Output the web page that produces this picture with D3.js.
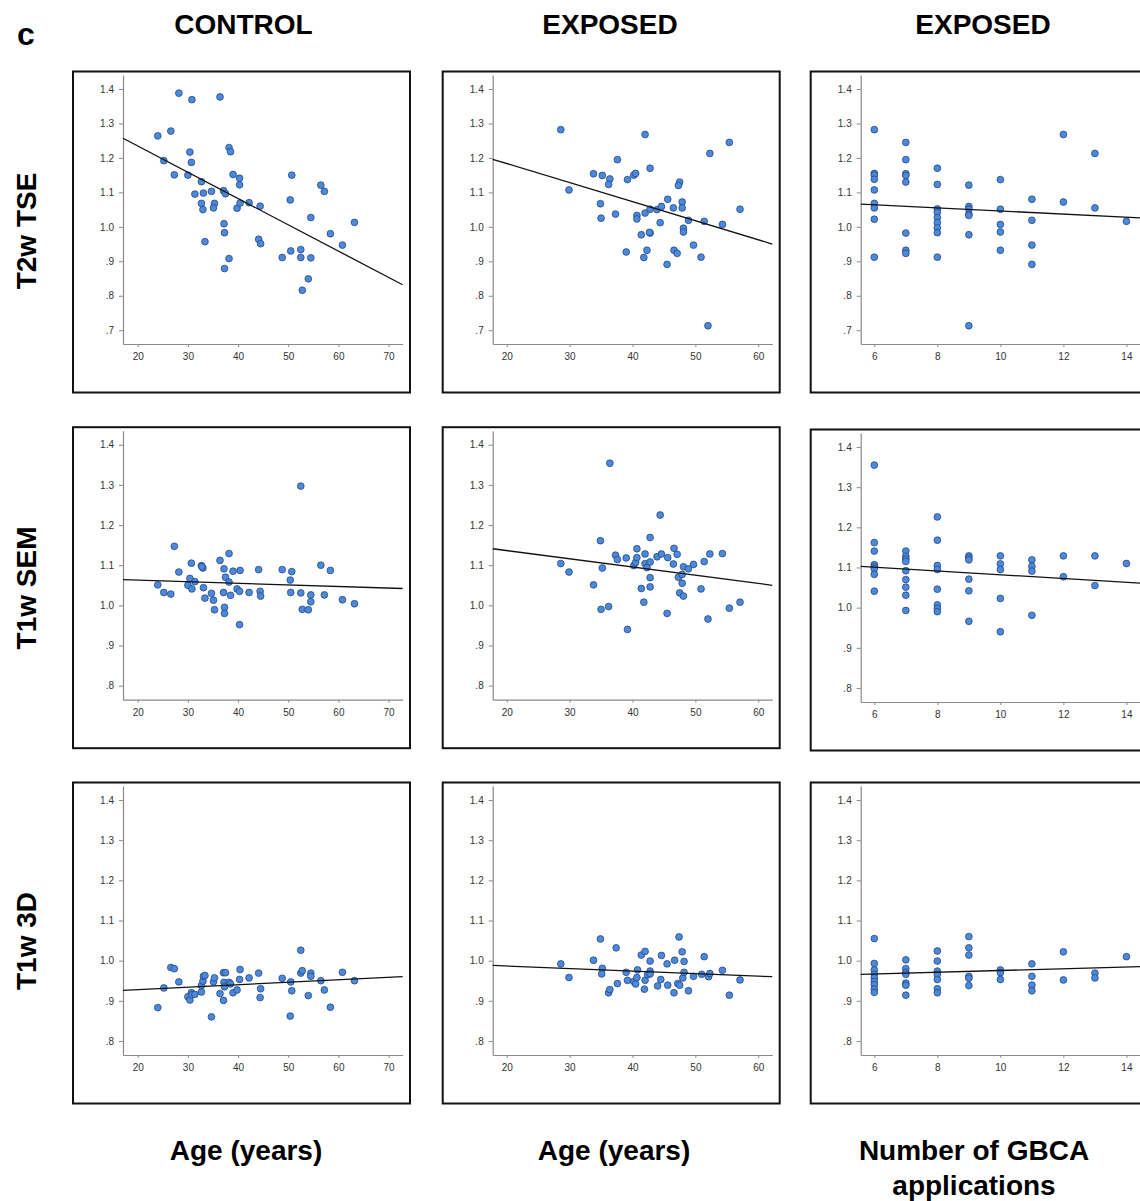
<!DOCTYPE html>
<html><head><meta charset="utf-8">
<script src="https://cdn.jsdelivr.net/npm/d3@7"></script>
<style>body{margin:0;background:#fff}svg{display:block}</style>
</head><body><svg id="chart" width="1140" height="1201"></svg>
<script>
// ---------- labels ----------
const panelLetter = "c";
const columnTitles = ["CONTROL", "EXPOSED", "EXPOSED"];
const rowTitles = ["T2w TSE", "T1w SEM", "T1w 3D"];
const xTitles = [["Age (years)"], ["Age (years)"], ["Number of GBCA", "applications"]];

// ---------- ticks ----------
const ageTicksControl = [20, 30, 40, 50, 60, 70];
const ageTicksExposed = [20, 30, 40, 50, 60];
const gbcaTicks = [6, 8, 10, 12, 14];
const yTicksTop = [0.7, 0.8, 0.9, 1.0, 1.1, 1.2, 1.3, 1.4];
const yTickLabelsTop = [".7", ".8", ".9", "1.0", "1.1", "1.2", "1.3", "1.4"];
const yTicksLower = [0.8, 0.9, 1.0, 1.1, 1.2, 1.3, 1.4];
const yTickLabelsLower = [".8", ".9", "1.0", "1.1", "1.2", "1.3", "1.4"];

// ---------- axis extents ----------
const xDomainControl = [17.07, 72.79];
const xDomainExposed = [17.77, 62.23];
const xDomainGbca = [5.568, 14.44];
const yDomainTop = [0.660, 1.4406];
const yDomainLower = [0.765, 1.435];

// ---------- data: [x, ratio] ----------
const t2wControl = [[28.2,1.388],[30.8,1.369],[36.4,1.377],[24.0,1.264],[26.6,1.278],[30.4,1.217],[30.7,1.187],[25.2,1.192],[27.3,1.151],[30.0,1.150],
[38.2,1.230],[38.5,1.218],[39.0,1.152],[40.3,1.141],[40.3,1.122],[32.7,1.131],[31.4,1.095],[33.1,1.098],[34.7,1.103],[37.1,1.105],
[37.5,1.096],[32.7,1.068],[33.0,1.050],[35.3,1.068],[35.1,1.055],[39.8,1.054],[40.4,1.069],[42.2,1.070],[44.4,1.060],[37.2,1.009],
[37.3,0.983],[33.4,0.957],[44.1,0.964],[44.5,0.951],[38.2,0.908],[37.3,0.879],[50.7,1.150],[50.4,1.078],[56.5,1.121],[57.2,1.103],
[54.5,1.027],[58.4,0.980],[63.2,1.013],[60.8,0.947],[48.8,0.911],[50.5,0.930],[52.5,0.934],[52.5,0.911],[54.5,0.910],[54.0,0.849],[52.8,0.816]];
const t2wExposedAge = [[28.6,1.282],[29.9,1.107],[33.8,1.154],[35.2,1.149],[34.9,1.067],[35.0,1.025],[36.4,1.139],[36.2,1.123],[37.6,1.195],[37.3,1.037],
[39.2,1.137],[40.2,1.150],[40.5,1.155],[39.0,0.927],[42.0,1.268],[42.8,1.170],[40.7,1.033],[40.7,1.023],[42.0,1.040],[42.8,1.051],
[41.4,0.977],[42.8,0.982],[42.7,0.984],[42.3,0.932],[41.8,0.911],[43.9,1.050],[44.6,1.059],[45.6,1.080],[44.4,1.012],[45.5,0.891],
[46.5,1.055],[47.5,1.130],[47.3,1.120],[47.9,1.072],[47.9,1.055],[48.9,1.019],[48.1,0.996],[48.1,0.985],[46.6,0.932],[47.1,0.923],
[49.7,0.947],[50.9,0.912],[51.4,1.016],[52.3,1.213],[55.4,1.245],[54.3,1.007],[57.1,1.051],[52.0,0.713]];
const t2wExposedGbca = [[6,1.282],[6,1.155],[6,1.150],[6,1.138],[6,1.107],[6,1.068],[6,1.055],[6,1.022],[6,0.912],
[7,1.245],[7,1.195],[7,1.154],[7,1.149],[7,1.130],[7,0.982],[7,0.932],[7,0.923],
[8,1.170],[8,1.123],[8,1.052],[8,1.042],[8,1.027],[8,1.012],[8,0.997],[8,0.983],[8,0.912],
[9,1.121],[9,1.059],[9,1.051],[9,1.037],[9,1.033],[9,0.977],[9,0.713],
[10,1.137],[10,1.051],[10,1.007],[10,0.985],[10,0.932],
[11,1.080],[11,1.019],[11,0.947],[11,0.891],
[12,1.268],[12,1.072],[13,1.213],[13,1.055],[14,1.016]];

const semControl = [[24.0,1.051],[25.2,1.032],[26.6,1.028],[27.3,1.147],[28.2,1.083],[30.0,1.050],[30.4,1.067],[30.7,1.105],[30.8,1.041],[31.4,1.059],
[32.7,1.099],[33.0,1.093],[33.1,1.044],[33.4,1.018],[34.7,1.030],[35.1,1.013],[35.3,0.989],[36.4,1.112],[37.2,1.091],[37.5,1.070],
[38.2,1.129],[38.2,1.058],[37.1,1.032],[37.3,0.995],[37.3,0.980],[38.5,1.025],[39.0,1.085],[39.8,1.041],[40.3,1.035],[40.4,1.087],
[40.3,0.952],[42.2,1.032],[44.1,1.089],[44.4,1.035],[44.5,1.023],[48.8,1.089],[50.4,1.063],[50.7,1.084],[50.5,1.032],[52.5,1.297],
[52.5,1.031],[52.8,0.990],[54.0,0.989],[54.5,1.026],[54.5,1.009],[56.5,1.100],[57.2,1.026],[58.4,1.087],[60.8,1.014],[63.2,1.004],[32.8,1.096]];
const semExposedAge = [[28.6,1.104],[29.9,1.083],[33.8,1.051],[34.9,1.161],[35.2,1.093],[35.0,0.990],[36.2,0.997],[36.4,1.354],[37.3,1.125],[37.6,1.114],
[39.0,1.118],[39.2,0.940],[40.2,1.099],[40.5,1.107],[40.7,1.119],[40.7,1.141],[41.4,1.042],[41.8,1.008],[42.0,1.128],[42.0,1.104],
[42.3,1.094],[42.8,1.169],[42.8,1.108],[42.8,1.069],[42.8,1.046],[43.9,1.121],[44.4,1.225],[44.6,1.128],[45.6,1.119],[45.5,0.980],
[46.5,1.103],[46.6,1.142],[47.1,1.127],[47.3,1.070],[47.5,1.031],[47.9,1.077],[47.9,1.055],[48.1,1.096],[48.1,1.023],[48.9,1.091],
[49.7,1.102],[50.9,1.041],[51.4,1.109],[52.3,1.128],[52.0,0.966],[54.3,1.129],[55.4,0.993],[57.1,1.008]];
const semExposedGbca = [[6,1.355],[6,1.162],[6,1.141],[6,1.107],[6,1.102],[6,1.097],[6,1.083],[6,1.041],
[7,1.141],[7,1.128],[7,1.121],[7,1.115],[7,1.092],[7,1.070],[7,1.051],[7,1.031],[7,0.993],
[8,1.226],[8,1.168],[8,1.105],[8,1.095],[8,1.046],[8,1.007],[8,0.998],[8,0.990],
[9,1.129],[9,1.124],[9,1.119],[9,1.071],[9,1.042],[9,0.966],
[10,1.129],[10,1.109],[10,1.095],[10,1.023],[10,0.940],
[11,1.119],[11,1.103],[11,1.091],[11,0.981],
[12,1.129],[12,1.077],[13,1.129],[13,1.055],[14,1.110]];

const t1w3dControl = [[24.0,0.883],[25.2,0.932],[26.6,0.983],[27.3,0.980],[28.2,0.947],[30.0,0.910],[30.4,0.902],[30.7,0.920],[30.8,0.915],[31.4,0.916],
[32.7,0.922],[32.7,0.938],[33.0,0.949],[33.1,0.961],[33.4,0.963],[34.7,0.860],[35.1,0.947],[35.3,0.957],[36.4,0.918],[37.1,0.970],
[37.5,0.970],[37.2,0.946],[37.3,0.935],[37.1,0.901],[38.2,0.946],[38.5,0.942],[39.0,0.920],[39.8,0.927],[40.4,0.978],[40.3,0.953],
[42.2,0.957],[44.1,0.969],[44.4,0.908],[44.5,0.930],[48.8,0.956],[50.4,0.862],[50.5,0.947],[50.7,0.925],[52.5,1.026],[52.5,0.969],
[52.8,0.975],[54.0,0.913],[54.5,0.969],[54.5,0.961],[56.5,0.950],[57.2,0.927],[58.4,0.884],[60.8,0.971],[63.2,0.950]];
const t1w3dExposedAge = [[28.6,0.992],[29.9,0.958],[33.8,1.001],[34.9,1.054],[35.2,0.981],[35.1,0.967],[36.2,0.920],[36.4,0.928],[37.4,1.032],[37.6,0.943],
[39.0,0.971],[39.2,0.951],[40.2,0.948],[40.5,0.942],[40.8,0.977],[40.7,0.958],[41.4,1.014],[42.0,1.023],[42.0,0.951],[41.9,0.929],
[42.4,0.965],[42.8,0.999],[42.8,0.974],[42.8,0.967],[44.0,0.937],[44.5,0.953],[44.6,1.013],[45.5,0.992],[45.6,0.939],[46.6,0.920],
[46.7,1.001],[47.4,1.059],[47.2,0.943],[47.5,0.939],[47.9,1.022],[48.0,0.957],[48.2,0.998],[48.2,0.971],[48.9,0.925],[49.7,0.961],
[51.0,0.966],[51.4,1.010],[52.1,0.960],[52.3,0.968],[54.3,0.976],[55.4,0.914],[57.1,0.952]];
const t1w3dExposedGbca = [[6,1.055],[6,0.993],[6,0.977],[6,0.966],[6,0.957],[6,0.948],[6,0.940],[6,0.929],[6,0.921],
[7,1.002],[7,0.980],[7,0.971],[7,0.966],[7,0.944],[7,0.939],[7,0.914],
[8,1.024],[8,0.999],[8,0.974],[8,0.966],[8,0.953],[8,0.930],[8,0.920],
[9,1.060],[9,1.032],[9,1.014],[9,0.961],[9,0.956],[9,0.938],
[10,0.977],[10,0.970],[10,0.953],
[11,0.992],[11,0.961],[11,0.939],[11,0.925],
[12,1.022],[12,0.952],[13,0.969],[13,0.957],[14,1.010]];

// ---------- fit lines: [x, ratio] at both ends of the x axis ----------
const fitT2wControl = [[17.07,1.257],[72.79,0.832]];
const fitT2wExposedAge = [[17.77,1.196],[62.23,0.950]];
const fitT2wExposedGbca = [[5.568,1.066],[14.44,1.026]];
const fitSemControl = [[17.07,1.064],[72.79,1.042]];
const fitSemExposedAge = [[17.77,1.141],[62.23,1.050]];
const fitSemExposedGbca = [[5.568,1.103],[14.44,1.061]];
const fit3dControl = [[17.07,0.926],[72.79,0.960]];
const fit3dExposedAge = [[17.77,0.988],[62.23,0.960]];
const fit3dExposedGbca = [[5.568,0.966],[14.44,0.985]];

// ---------- build ----------
const svg = d3.select("#chart");
const FONT = "'Liberation Sans', Arial, Helvetica, sans-serif";

const colCfg = [
  {left: 123, xDomain: xDomainControl, xTicks: ageTicksControl},
  {left: 492.7, xDomain: xDomainExposed, xTicks: ageTicksExposed},
  {left: 860.7, xDomain: xDomainGbca, xTicks: gbcaTicks}
];
const rowCfg = [
  {bottom: 344, yDomain: yDomainTop, yTicks: yTicksTop, yLabels: yTickLabelsTop},
  {bottom: 699.7, yDomain: yDomainLower, yTicks: yTicksLower, yLabels: yTickLabelsLower},
  {bottom: 1055, yDomain: yDomainLower, yTicks: yTicksLower, yLabels: yTickLabelsLower}
];
const panelData = [
  [t2wControl, t2wExposedAge, t2wExposedGbca],
  [semControl, semExposedAge, semExposedGbca],
  [t1w3dControl, t1w3dExposedAge, t1w3dExposedGbca]
];
const panelFits = [
  [fitT2wControl, fitT2wExposedAge, fitT2wExposedGbca],
  [fitSemControl, fitSemExposedAge, fitSemExposedGbca],
  [fit3dControl, fit3dExposedAge, fit3dExposedGbca]
];
const plotW = 279.6, plotH = 269;

rowCfg.forEach((rc, r) => {
  colCfg.forEach((cc, c) => {
    const dy = (r === 1 && c === 2) ? 2.3 : 0;
    const bottom = rc.bottom + dy;
    const x = d3.scaleLinear().domain(cc.xDomain).range([cc.left, cc.left + plotW]);
    const y = d3.scaleLinear().domain(rc.yDomain).range([bottom, bottom - plotH]);
    const g = svg.append("g");

    g.append("rect")
      .attr("x", cc.left - 50).attr("y", bottom - 272.5)
      .attr("width", 337).attr("height", 321)
      .attr("fill", "none").attr("stroke", "#111").attr("stroke-width", 2);

    const yAxis = d3.axisLeft(y).tickValues(rc.yTicks)
      .tickFormat((d, i) => rc.yLabels[i]).tickSize(4).tickSizeOuter(0).tickPadding(5);
    const xAxis = d3.axisBottom(x).tickValues(cc.xTicks)
      .tickFormat(d => String(d)).tickSize(3).tickSizeOuter(0).tickPadding(6);
    const ya = g.append("g").attr("transform", `translate(${cc.left},0)`).call(yAxis);
    const xa = g.append("g").attr("transform", `translate(0,${bottom})`).call(xAxis);
    [ya, xa].forEach(a => {
      a.select(".domain").attr("stroke", "#8a8a8a").attr("stroke-width", 1.2);
      a.selectAll(".tick line").attr("stroke", "#8a8a8a");
      a.selectAll(".tick text").attr("fill", "#333").style("font-family", FONT).style("font-size", "10px");
    });

    g.append("g").selectAll("circle").data(panelData[r][c]).join("circle")
      .attr("cx", d => x(d[0])).attr("cy", d => y(d[1])).attr("r", 3.4)
      .attr("fill", "#4a89dc").attr("stroke", "#1f3d73").attr("stroke-width", 0.7);

    g.append("path").datum(panelFits[r][c])
      .attr("d", d3.line().x(d => x(d[0])).y(d => y(d[1])))
      .attr("fill", "none").attr("stroke", "#111").attr("stroke-width", 1.3);
  });
});

svg.append("text").attr("x", 17).attr("y", 45).text(panelLetter)
  .style("font-family", FONT).style("font-weight", "bold").style("font-size", "32px");
const colCenters = [243.5, 610, 983];
columnTitles.forEach((t, i) => {
  svg.append("text").attr("x", colCenters[i]).attr("y", 34).attr("text-anchor", "middle").text(t)
    .style("font-family", FONT).style("font-weight", "bold").style("font-size", "28px");
});
const rowCenters = [231, 588, 941];
rowTitles.forEach((t, i) => {
  svg.append("text").attr("transform", `translate(36,${rowCenters[i]}) rotate(-90)`)
    .attr("text-anchor", "middle").text(t)
    .style("font-family", FONT).style("font-weight", "bold").style("font-size", "28px");
});
const xTitleCenters = [246, 614, 974];
xTitles.forEach((lines, i) => {
  lines.forEach((t, j) => {
    svg.append("text").attr("x", xTitleCenters[i]).attr("y", 1160 + j * 35).attr("text-anchor", "middle").text(t)
      .style("font-family", FONT).style("font-weight", "bold").style("font-size", "28px");
  });
});
</script>
</body></html>
